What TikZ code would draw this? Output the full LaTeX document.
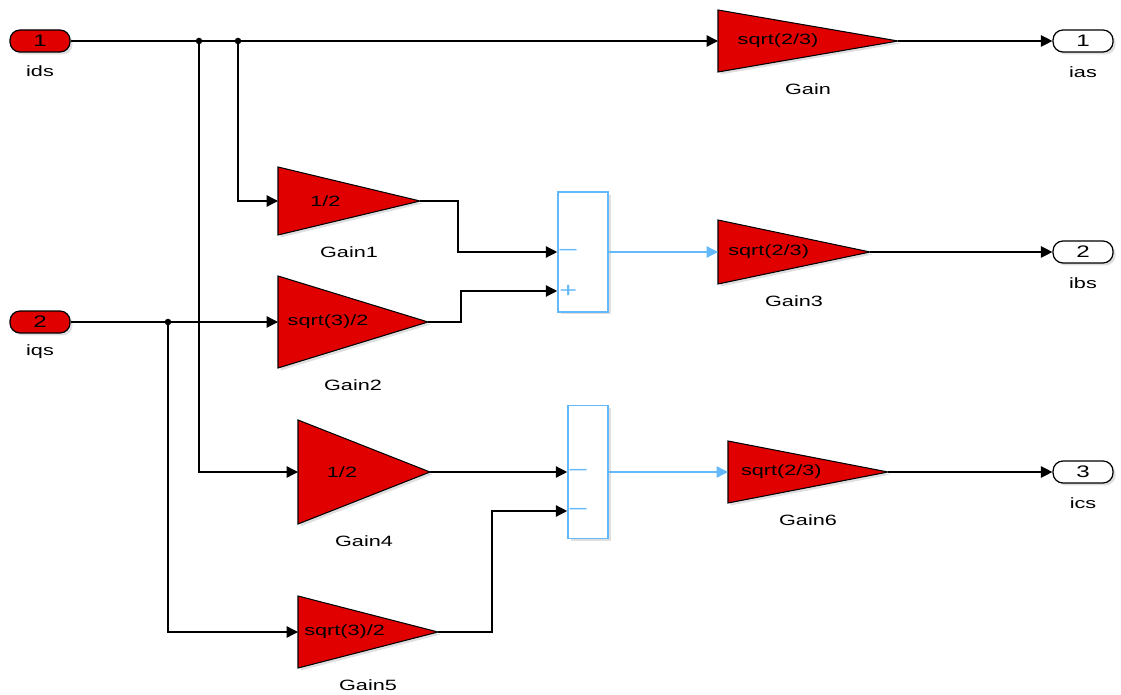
\documentclass[tikz,border=0pt]{standalone}
\usepackage{fontspec}
\setmainfont[FakeStretch=1.45]{Liberation Sans}
\usetikzlibrary{arrows.meta,calc,shadows}

\definecolor{blkred}{RGB}{225,0,0}
\definecolor{sumblue}{RGB}{100,185,250}

\tikzset{
  wire/.style={line width=0.75pt},
  sig/.style={wire,-{Triangle[length=6.5pt,width=6.5pt]}},
  bluesig/.style={line width=0.75pt,draw=sumblue,-{Triangle[length=6.5pt,width=6.5pt]},sumblue},
  gainblk/.style={draw=black,fill=blkred,line width=0.6pt,
    drop shadow={shadow xshift=0.05cm,shadow yshift=-0.05cm,opacity=0.25}},
  port/.style={draw,rounded corners=0.2cm,minimum width=1.2cm,minimum height=0.44cm,
    line width=0.7pt,inner sep=0pt,font=\fontsize{9.5}{10}\selectfont,
    drop shadow={shadow xshift=0.05cm,shadow yshift=-0.05cm,opacity=0.25}},
  inport/.style={port,fill=blkred},
  outport/.style={port,fill=white},
  sumblk/.style={draw=sumblue,fill=white,line width=0.9pt,minimum width=1cm,
    drop shadow={shadow xshift=0.05cm,shadow yshift=-0.05cm,opacity=0.25}},
  lbl/.style={font=\fontsize{8.5}{9}\selectfont,inner sep=0pt},
  sign/.style={font=\fontsize{12}{12}\selectfont,text=sumblue,inner sep=0pt},
  dot/.style={circle,fill,inner sep=0pt,minimum size=0.13cm}
}

% gain block: name, left x, top y, bottom y, tip x, value, caption
\newcommand{\gainblock}[7]{%
  \draw[gainblk] (#2,#3) -- (#5,{(#3+#4)/2}) -- (#2,#4) -- cycle;
  \coordinate (#1-in) at (#2,{(#3+#4)/2});
  \coordinate (#1-out) at (#5,{(#3+#4)/2});
  \node[lbl] (#1) at ({#2+(#5-#2)/3},{(#3+#4)/2}) {#6};
  \node[lbl] (#1-cap) at ({(#2+#5)/2},{#4+17}) {#7};
}

\begin{document}
\begin{tikzpicture}[x=0.02cm,y=-0.02cm]
\useasboundingbox (0,0) rectangle (1121,695);

% Inports
\node[inport] (ids) at (40,41) {1};
\node[lbl] (ids-lbl) at (40,71) {ids};
\node[inport] (iqs) at (40,322) {2};
\node[lbl] (iqs-lbl) at (40,352) {iqs};

% Outports
\node[outport] (ias) at (1083,41) {1};
\node[lbl] (ias-lbl) at (1083,72) {ias};
\node[outport] (ibs) at (1083,252) {2};
\node[lbl] (ibs-lbl) at (1083,283) {ibs};
\node[outport] (ics) at (1083,472) {3};
\node[lbl] (ics-lbl) at (1083,503) {ics};

% Gains
\gainblock{g}{718}{10}{72}{898}{sqrt(2/3)}{Gain}
\gainblock{g1}{278}{167}{235}{420}{1/2}{Gain1}
\gainblock{g2}{278}{276}{368}{428}{sqrt(3)/2}{Gain2}
\gainblock{g3}{718}{220}{284}{870}{sqrt(2/3)}{Gain3}
\gainblock{g4}{298}{420}{524}{430}{1/2}{Gain4}
\gainblock{g5}{298}{596}{668}{438}{sqrt(3)/2}{Gain5}
\gainblock{g6}{728}{441}{503}{888}{sqrt(2/3)}{Gain6}

% Sums
\node[sumblk,minimum height=2.4cm] (s1) at (583,252) {};
\coordinate (s1-in1) at (s1.west);
\coordinate (s1-in2) at ($(s1.west)+(0,39)$);
\node[sign] at ($(s1-in1)+(11,0)$) {–};
\node[sign] at ($(s1-in2)+(11,0)$) {+};

\node[sumblk,minimum width=0.8cm,minimum height=2.66cm] (s2) at (588,472) {};
\coordinate (s2-in1) at (s2.west);
\coordinate (s2-in2) at ($(s2.west)+(0,39)$);
\node[sign] at ($(s2-in1)+(11,0)$) {–};
\node[sign] at ($(s2-in2)+(11,0)$) {–};

% Branch points
\coordinate (j1) at (199,41);
\coordinate (j2) at (238,41);
\coordinate (j3) at (168,322);
\node[dot] at (j1) {};
\node[dot] at (j2) {};
\node[dot] at (j3) {};

% Wires
\draw[sig] (ids.east) -- (g-in);
\draw[sig] (j2) |- (g1-in);
\draw[sig] (j1) |- (g4-in);
\draw[sig] (iqs.east) -- (g2-in);
\draw[sig] (j3) |- (g5-in);

\draw[sig] (g1-out) -- ++(38,0) |- (s1-in1);
\draw[sig] (g2-out) -- ++(33,0) |- (s1-in2);
\draw[sig] (g4-out) -- (s2-in1);
\draw[sig] (g5-out) -- ++(54,0) |- (s2-in2);

\draw[bluesig] (s1.east) -- (g3-in);
\draw[bluesig] (s2.east |- s2-in1) -- (g6-in);

\draw[sig] (g-out) -- (ias.west);
\draw[sig] (g3-out) -- (ibs.west);
\draw[sig] (g6-out) -- (ics.west);

\end{tikzpicture}
\end{document}
